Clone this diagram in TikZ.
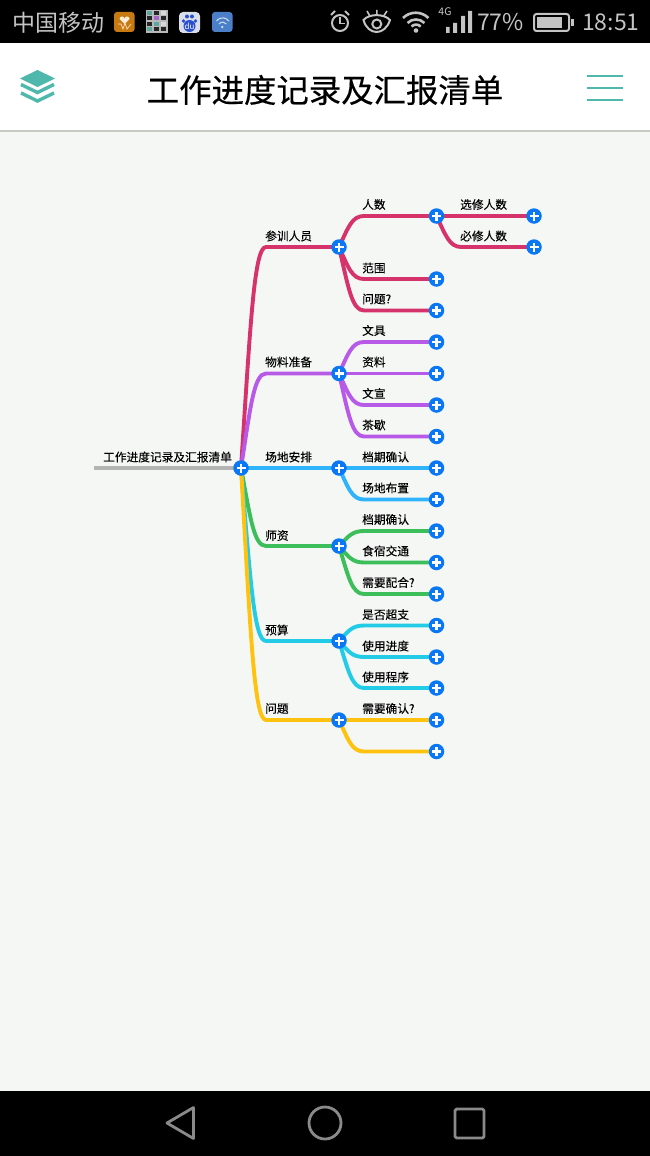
\documentclass[tikz,border=0pt]{standalone}
\usepackage{fontspec}
\setmainfont{Noto Sans CJK SC}
\newfontfamily\mapfont[FakeBold=0.1]{Noto Sans CJK SC}
\newfontfamily\titlefont[FakeBold=0.4]{Noto Sans CJK SC}
\usepackage{tikz}
\usetikzlibrary{calc,backgrounds}

\definecolor{barblack}{HTML}{000000}
\definecolor{bargray}{HTML}{C4C4C4}
\definecolor{navgray}{HTML}{8A8A8A}
\definecolor{paper}{HTML}{F5F7F5}
\definecolor{rule}{HTML}{C6CAC2}
\definecolor{teal}{HTML}{4FB8AC}
\definecolor{plusblue}{HTML}{0A78F5}
\definecolor{rootgray}{HTML}{B4B4B4}
\definecolor{crimson}{HTML}{D6336C}
\definecolor{violet}{HTML}{B85AE8}
\definecolor{sky}{HTML}{2FB4FB}
\definecolor{grass}{HTML}{3CBE5A}
\definecolor{aqua}{HTML}{22CCE6}
\definecolor{amber}{HTML}{FFC20E}
\definecolor{iconorange}{HTML}{C87A12}
\definecolor{iconpale}{HTML}{DADEEA}
\definecolor{iconpaw}{HTML}{2A50D0}
\definecolor{iconsteel}{HTML}{4B7FC8}

\tikzset{
  plus node/.style={circle,fill=plusblue,inner sep=0pt,minimum size=15.5pt,
    path picture={\draw[white,line width=2.6pt]
      ([xshift=-4.5pt]path picture bounding box.center) -- ([xshift=4.5pt]path picture bounding box.center)
      ([yshift=-4.5pt]path picture bounding box.center) -- ([yshift=4.5pt]path picture bounding box.center);}},
  limb text/.style={anchor=west,inner sep=0pt,text=black,font=\mapfont\fontsize{11.7}{14}\selectfont},
  bar text/.style={anchor=west,inner sep=0pt,text=bargray,font=\fontsize{23}{26}\selectfont},
  limb/.style={line width=3.9pt,color=#1,
    to path={let \p1=(\tikztostart),\p2=(\tikztotarget) in
      .. controls (\x1+9.5pt,\y1+0.65*\y2-0.65*\y1) and (\x1+13pt,\y2) .. (\x1+25pt,\y2)
      -- (\tikztotarget)}},
  bar icon/.style={draw=bargray,line width=2pt,fill=none},
  nav icon/.style={draw=navgray,line width=2.8pt,line join=round}
}

\begin{document}
\begin{tikzpicture}[x=1pt,y=-1pt]
  \useasboundingbox (0,0) rectangle (650,1156);

  % nodes of the map
  \node[plus node] (root) at (241,468) {};
  \node[plus node] (people) at (339,247) {};
  \node[plus node] (goods) at (339,373.5) {};
  \node[plus node] (venue) at (339,468) {};
  \node[plus node] (tutor) at (339,546) {};
  \node[plus node] (budget) at (339,641) {};
  \node[plus node] (issue) at (339,720) {};
  \node[plus node] (count) at (436.5,216) {};
  \node[plus node] (range) at (436.5,279) {};
  \node[plus node] (ask) at (436.5,310.5) {};
  \node[plus node] (docs) at (436.5,342) {};
  \node[plus node] (data) at (436.5,373.5) {};
  \node[plus node] (promo) at (436.5,405) {};
  \node[plus node] (tea) at (436.5,436.5) {};
  \node[plus node] (slot) at (436.5,468) {};
  \node[plus node] (setup) at (436.5,499.5) {};
  \node[plus node] (slot2) at (436.5,531) {};
  \node[plus node] (stay) at (436.5,562.5) {};
  \node[plus node] (help) at (436.5,594) {};
  \node[plus node] (over) at (436.5,625.5) {};
  \node[plus node] (pace) at (436.5,657) {};
  \node[plus node] (steps) at (436.5,688) {};
  \node[plus node] (check) at (436.5,720) {};
  \node[plus node] (blank) at (436.5,751.5) {};
  \node[plus node] (elect) at (534,216) {};
  \node[plus node] (must) at (534,247) {};
  \coordinate (tail) at (94,468);

  % texts of the map
  \node[limb text] (roottext) at (103,457) {工作进度记录及汇报清单};
  \node[limb text] at (265,236) {参训人员};
  \node[limb text] at (265,362) {物料准备};
  \node[limb text] at (265,457) {场地安排};
  \node[limb text] at (265,535.5) {师资};
  \node[limb text] at (265,630) {预算};
  \node[limb text] at (265,708.5) {问题};
  \node[limb text] at (362,204.5) {人数};
  \node[limb text] at (362,268) {范围};
  \node[limb text] at (362,299) {问题?};
  \node[limb text] at (362,330.5) {文具};
  \node[limb text] at (362,362) {资料};
  \node[limb text] at (362,393.5) {文宣};
  \node[limb text] at (362,425) {茶歇};
  \node[limb text] at (362,457) {档期确认};
  \node[limb text] at (362,488) {场地布置};
  \node[limb text] at (362,519.5) {档期确认};
  \node[limb text] at (362,551) {食宿交通};
  \node[limb text] at (362,582.5) {需要配合?};
  \node[limb text] at (362,614.5) {是否超支};
  \node[limb text] at (362,646) {使用进度};
  \node[limb text] at (362,677) {使用程序};
  \node[limb text] at (362,708.5) {需要确认?};
  \node[limb text] at (460,204.5) {选修人数};
  \node[limb text] at (460,236) {必修人数};

  \begin{scope}[on background layer]
    % screen
    \fill[paper] (0,131) rectangle (650,1091);
    \fill[white] (0,43) rectangle (650,130);
    \draw[rule,line width=1.2pt] (0,131) -- (650,131);
    \fill[barblack] (0,0) rectangle (650,43);
    \fill[barblack] (0,1091) rectangle (650,1156);
    % connectors
    \draw[rootgray,line width=3.9pt] (tail) -- (root.center);
    \path[limb=crimson] (root.center) edge (people.center);
    \path[limb=violet] (root.center) edge (goods.center);
    \path[limb=sky] (root.center) edge (venue.center);
    \path[limb=grass] (root.center) edge (tutor.center);
    \path[limb=aqua] (root.center) edge (budget.center);
    \path[limb=amber] (root.center) edge (issue.center);
    \path[limb=crimson] (people.center) edge (count.center) edge (range.center) edge (ask.center);
    \path[limb=crimson] (count.center) edge (elect.center) edge (must.center);
    \path[limb=violet] (goods.center) edge (docs.center) edge (data.center) edge (promo.center) edge (tea.center);
    \path[limb=sky] (venue.center) edge (slot.center) edge (setup.center);
    \path[limb=grass] (tutor.center) edge (slot2.center) edge (stay.center) edge (help.center);
    \path[limb=aqua] (budget.center) edge (over.center) edge (pace.center) edge (steps.center);
    \path[limb=amber] (issue.center) edge (check.center) edge (blank.center);
  \end{scope}

  % header
  \node[anchor=center,inner sep=0pt,font=\titlefont\fontsize{32.4}{36}\selectfont] (title) at (325,90) {工作进度记录及汇报清单};
  \fill[teal] (37.5,70) -- (55,78.5) -- (37.5,87) -- (20,78.5) -- cycle;
  \draw[teal,line width=3.4pt] (21,84.5) -- (37.5,92.5) -- (54,84.5);
  \draw[teal,line width=3.4pt] (21,93) -- (37.5,101) -- (54,93);
  \draw[teal,line width=2.8pt] (587,76) -- (623,76) (587,88) -- (623,88) (587,100) -- (623,100);

  % status bar
  \node[bar text] (carrier) at (12,23) {中国移动};
  \fill[rounded corners=3pt,fill=iconorange] (114,12) rectangle (134.5,32);
  \fill[white!85!orange] (124.5,24) -- (119.5,19) arc[start angle=180,end angle=0,radius=2.5pt] arc[start angle=180,end angle=0,radius=2.5pt] -- cycle;
  \draw[white!75!orange,line width=.7pt] (118,24) -- (121,24) -- (123,29) -- (125,23) -- (127,29) -- (131,24);
  \fill[gray!55] (146,10) rectangle (168,33);
  \foreach \i/\j/\tint in {0/0/teal,1/0/black,2/0/white,0/1/black,1/1/violet,2/1/black,0/2/black,1/2/teal,2/2/white,0/3/teal,1/3/black,2/3/black}
    \fill[\tint!70!gray] (147+7*\i,11+5.5*\j) rectangle (152+7*\i,15+5.5*\j);
  \fill[rounded corners=4pt,fill=iconpale] (179,12) rectangle (200,33);
  \fill[iconpaw] (189.5,26) circle[radius=6pt] (183.5,21) circle[radius=1.9pt] (187,16.5) circle[radius=2pt] (192,16.5) circle[radius=2pt] (195.5,21) circle[radius=1.9pt];
  \node[inner sep=0pt,text=white,font=\fontsize{8}{9}\selectfont] (du) at (189.5,26) {du};
  \fill[rounded corners=3pt,fill=iconsteel] (212,12) rectangle (232.5,32);
  \draw[white!70!iconsteel,line width=1.1pt] (216.5,21) arc[start angle=145,end angle=35,radius=7.5pt] (219,24) arc[start angle=145,end angle=35,radius=4.5pt];
  \fill[white!70!iconsteel] (222.2,27) circle[radius=1.3pt];

  \draw[bar icon] (340,23) circle[radius=8pt];
  \draw[bargray,line width=1.6pt] (340,17.5) -- (340,23.5) -- (345,23.5);
  \draw[bargray,line width=1.8pt] (331,15) -- (335,11) (349,15) -- (345,11);
  \draw[bar icon] (363.5,20) .. controls (368,36) and (385,36) .. (390,20) .. controls (384,13.5) and (369,13.5) .. (363.5,20) -- cycle;
  \draw[bargray,line width=2pt] (376.8,24) circle[radius=4.5pt];
  \draw[bargray,line width=1.6pt] (367,11) -- (369.5,15.5) (376.8,10) -- (376.8,14) (387,11) -- (384,15.5);
  \draw[bargray,line width=2.6pt] (403,18) arc[start angle=135,end angle=45,radius=18pt] (407.5,23) arc[start angle=135,end angle=45,radius=12pt] (411.5,26.5) arc[start angle=135,end angle=45,radius=6.5pt];
  \fill[bargray] (416,30.5) circle[radius=2.3pt];
  \node[inner sep=0pt,text=bargray,font=\fontsize{10.5}{11}\selectfont] (fourg) at (445,12) {4G};
  \fill[bargray] (446,27) rectangle (449.5,33) (453,23) rectangle (457,33) (461,16) rectangle (465,33) (468,11) rectangle (472,33);
  \node[bar text] (percent) at (477,22.5) {77\%};
  \draw[bargray,line width=2pt,rounded corners=2.5pt] (534,14) rectangle (569,31);
  \fill[bargray] (537,17) rectangle (562,28);
  \fill[bargray] (571,19) rectangle (573.5,26);
  \node[bar text] (clock) at (582,22.5) {18:51};

  % navigation bar
  \draw[nav icon] (193.5,1107.5) -- (167,1123) -- (193.5,1138.5) -- cycle;
  \draw[nav icon] (325,1123) circle[radius=16pt];
  \draw[nav icon,rounded corners=1.5pt] (455,1109) rectangle (484,1138);
\end{tikzpicture}
\end{document}
